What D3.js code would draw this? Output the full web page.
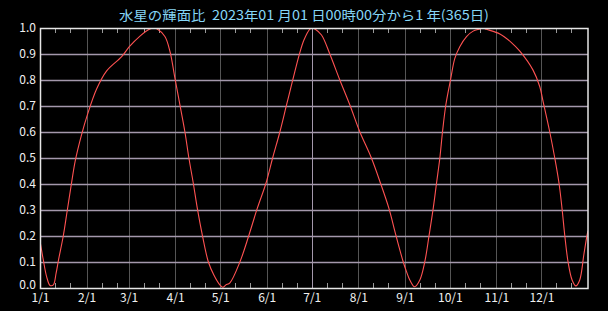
<!DOCTYPE html>
<html lang="ja">
<head>
    <meta charset="UTF-8">
    <title>水星の輝面比</title>
    <script src="https://d3js.org/d3.v7.min.js"></script>
    <style>
        body { margin: 0; background: #000; }
        svg { display: block; }
        text { font-family: "Noto Sans CJK JP", "DejaVu Sans", sans-serif; }
    </style>
</head>
<body>
    <div id="chart"></div>

    <script>
        // days since 2023-01-01 00:00 and illuminated fraction
        var days = [0, 2.2, 4.4, 6.7, 8.9, 10.7, 12.4, 15.5, 18.2, 20.9, 23.5, 27.7, 31.5, 37.7, 44.4,
            54.4, 59.5, 66.6, 73.2, 76, 78.1, 83.2, 86.6, 89.9, 93.2, 96.5, 99.2, 102.1, 104.8, 108.1,
            112.1, 115.8, 119.8, 121.8, 123.8, 126.5, 133.2, 139.2, 144.7, 150.5, 154.9, 159.8, 164.2,
            168.6, 172.6, 175.8, 179.8, 181.5, 183.1, 187.5, 193.1, 199.7, 206.4, 213.0, 220.8, 226.8,
            232.4, 237.0, 241.9, 244.1, 246.3, 249.5, 253.0, 256.3, 259.2, 261.9, 264.1, 266.3, 268.1,
            270.3, 273.4, 276.3, 279.6, 284.1, 288.5, 293, 295, 297.4, 306.3, 314.0, 319.6, 328.4,
            332.9, 335.1, 339.5, 342.9, 345.7, 347.7, 349.5, 351.7, 354.4, 356.9, 359.5, 362.2, 364.4, 365];
        var phase = [0.18, 0.108, 0.044, 0.01, 0.012, 0.056, 0.11, 0.2, 0.30, 0.40, 0.49, 0.59, 0.665, 0.765, 0.835,
            0.89, 0.928, 0.969, 0.996, 1.0, 0.996, 0.967, 0.909, 0.806, 0.704, 0.601, 0.499, 0.403, 0.306, 0.204,
            0.101, 0.05, 0.012, 0.003, 0.012, 0.02, 0.101, 0.204, 0.306, 0.403, 0.499, 0.601, 0.704,
            0.806, 0.896, 0.954, 0.996, 1.0, 0.996, 0.973, 0.899, 0.80, 0.704, 0.601, 0.499, 0.403,
            0.306, 0.204, 0.101, 0.063, 0.031, 0.005, 0.031, 0.101, 0.204, 0.306, 0.403, 0.499, 0.601,
            0.704, 0.80, 0.883, 0.928, 0.967, 0.988, 0.996, 1.0, 0.995, 0.977, 0.944, 0.911, 0.838,
            0.774, 0.717, 0.601, 0.499, 0.403, 0.306, 0.204, 0.101, 0.031, 0.008, 0.031, 0.127, 0.204, 0.22];

        var yTicks = [0, 0.1, 0.2, 0.3, 0.4, 0.5, 0.6, 0.7, 0.8, 0.9, 1.0];
        var title = "水星の輝面比  2023年01 月01 日00時00分から1 年(365日)";

        var start = new Date(2023, 0, 1), end = new Date(2024, 0, 1);
        var data = days.map((d, i) => ({ t: new Date(start.getTime() + d * 864e5), v: phase[i] }));

        var margin = { top: 28, right: 20, bottom: 23, left: 40 },
            width = 608 - margin.left - margin.right,
            height = 311 - margin.top - margin.bottom;

        var svg = d3.select("#chart").append("svg")
            .attr("width", 608)
            .attr("height", 311)
            .style("background", "#000");

        svg.append("text")
            .attr("x", 304)
            .attr("y", 20)
            .attr("text-anchor", "middle")
            .attr("fill", "#86d6f6")
            .attr("font-size", 13)
            .attr("textLength", 370)
            .attr("lengthAdjust", "spacingAndGlyphs")
            .style("white-space", "pre")
            .text(title);

        var g = svg.append("g")
            .attr("transform", "translate(" + margin.left + "," + margin.top + ")");

        var x = d3.scaleTime().domain([start, end]).range([0, width]);
        var y = d3.scaleLinear().domain([0, 1]).range([height, 0]);

        var months = d3.timeMonth.range(start, end);

        // month gridlines (7/1 drawn lighter)
        g.selectAll(".vgrid")
            .data(months.slice(1))
            .enter().append("line")
            .attr("x1", d => Math.round(x(d)) + 0.5)
            .attr("x2", d => Math.round(x(d)) + 0.5)
            .attr("y1", 0)
            .attr("y2", height)
            .attr("stroke", d => d.getMonth() === 6 ? "#a498ac" : "#555555")
            .attr("stroke-width", 1);

        // horizontal gridlines
        g.selectAll(".hgrid")
            .data(yTicks.slice(1, -1))
            .enter().append("line")
            .attr("x1", 0)
            .attr("x2", width)
            .attr("y1", d => Math.round(y(d)) + 0.5)
            .attr("y2", d => Math.round(y(d)) + 0.5)
            .attr("stroke", "#a498ac")
            .attr("stroke-width", 1.5);

        // small ticks on the 11th and 21st of each month
        var minor = [];
        months.forEach(m => {
            minor.push(d3.timeDay.offset(m, 10));
            minor.push(d3.timeDay.offset(m, 20));
        });
        [0, height].forEach(edge => {
            g.selectAll(null)
                .data(minor)
                .enter().append("line")
                .attr("x1", d => Math.round(x(d)) + 0.5)
                .attr("x2", d => Math.round(x(d)) + 0.5)
                .attr("y1", edge)
                .attr("y2", edge === 0 ? 5 : height - 5)
                .attr("stroke", "#999999");
        });

        // data line
        var line = d3.line()
            .x(d => x(d.t))
            .y(d => Math.min(height, y(d.v)))
            .curve(d3.curveCatmullRom.alpha(0.5));

        g.append("clipPath").attr("id", "clip")
            .append("rect").attr("width", width).attr("height", height);

        g.append("path")
            .datum(data)
            .attr("clip-path", "url(#clip)")
            .attr("fill", "none")
            .attr("stroke", "#ff5252")
            .attr("stroke-width", 1.1)
            .attr("d", line);

        // frame
        g.append("rect")
            .attr("x", 0.5)
            .attr("y", 0.5)
            .attr("width", width - 0.5)
            .attr("height", height)
            .attr("fill", "none")
            .attr("stroke", "#e6e6e6")
            .attr("stroke-width", 1.5);

        // y labels
        g.selectAll(".ylab")
            .data(yTicks)
            .enter().append("text")
            .attr("x", -4)
            .attr("y", d => d === 0 ? y(d) - 3 : y(d))
            .attr("dy", "0.36em")
            .attr("text-anchor", "end")
            .attr("fill", "#f0f0f0")
            .attr("font-size", 12)
            .text(d => d.toFixed(1));

        // x labels
        var xAxis = g.append("g")
            .attr("transform", "translate(0," + height + ")")
            .call(d3.axisBottom(x).tickValues(months).tickFormat(d3.timeFormat("%-m/%-d")).tickSize(0).tickPadding(5));
        xAxis.select(".domain").remove();
        xAxis.selectAll("text")
            .attr("fill", "#f0f0f0")
            .attr("font-size", 12)
            .attr("font-family", "\"Noto Sans CJK JP\", sans-serif");
    </script>
</body>
</html>
